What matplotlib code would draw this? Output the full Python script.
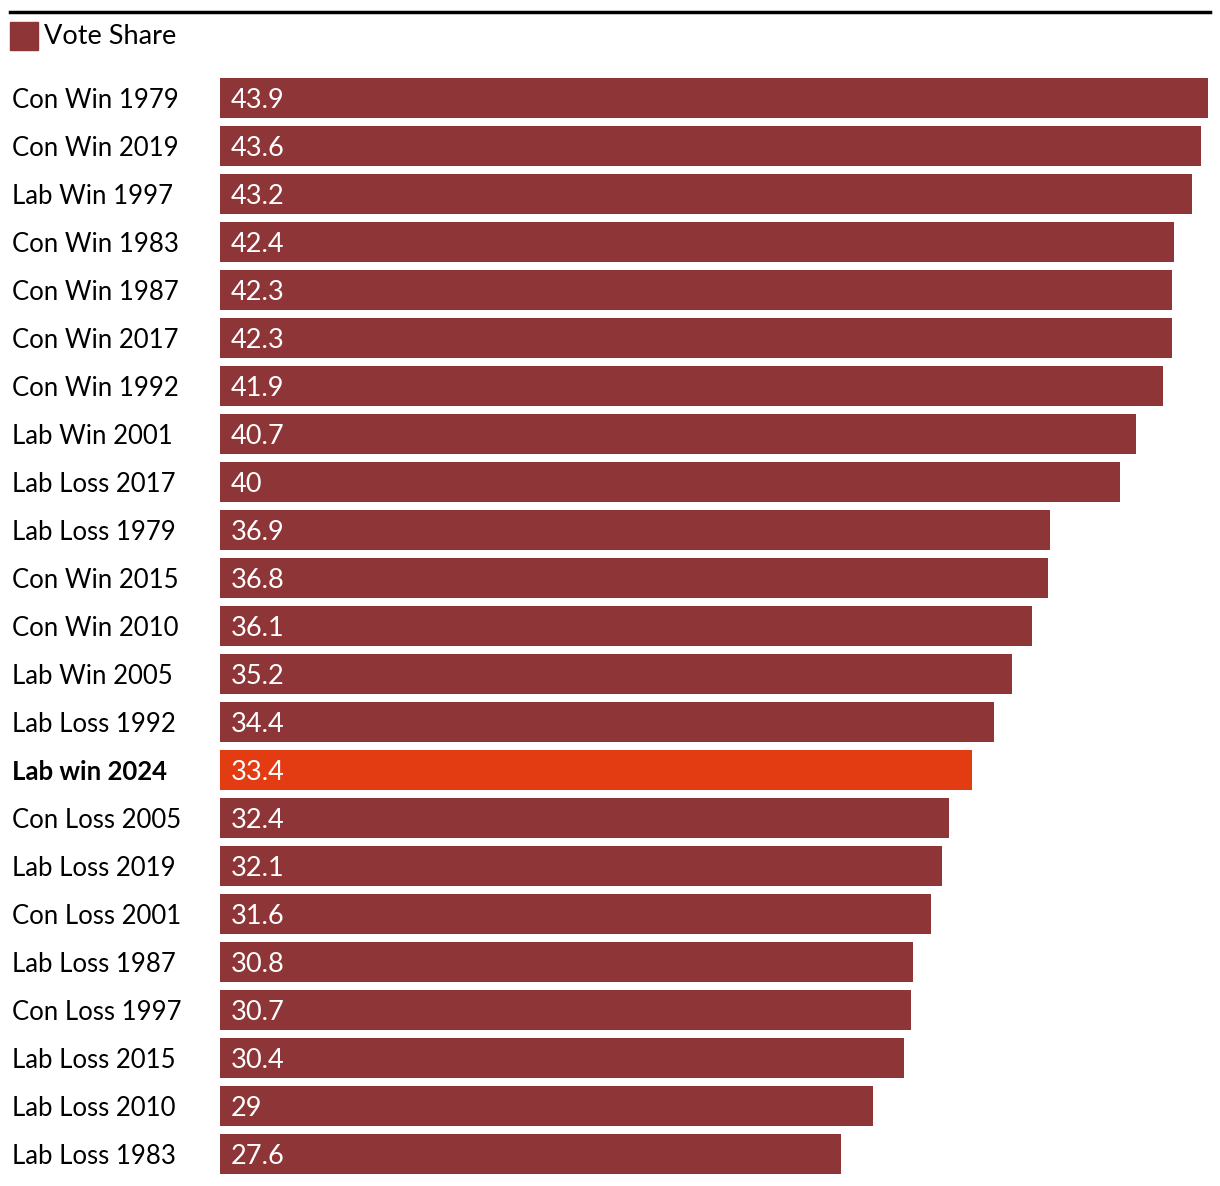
import matplotlib.pyplot as plt
from matplotlib.patches import Rectangle
from matplotlib.lines import Line2D

plt.rcParams['font.family'] = ['Lato', 'DejaVu Sans']

# ----------------------------
# data
# ----------------------------
labels = [
    "Con Win 1979", "Con Win 2019", "Lab Win 1997", "Con Win 1983", "Con Win 1987",
    "Con Win 2017", "Con Win 1992", "Lab Win 2001", "Lab Loss 2017", "Lab Loss 1979",
    "Con Win 2015", "Con Win 2010", "Lab Win 2005", "Lab Loss 1992", "Lab win 2024",
    "Con Loss 2005", "Lab Loss 2019", "Con Loss 2001", "Lab Loss 1987", "Con Loss 1997",
    "Lab Loss 2015", "Lab Loss 2010", "Lab Loss 1983",
]
values = [43.9, 43.6, 43.2, 42.4, 42.3, 42.3, 41.9, 40.7, 40, 36.9,
          36.8, 36.1, 35.2, 34.4, 33.4, 32.4, 32.1, 31.6, 30.8, 30.7,
          30.4, 29, 27.6]
highlight = "Lab win 2024"

BASE = "#8E3537"
HIGH = "#E33B12"

W, H = 1220, 1186
fig = plt.figure(figsize=(W / 100, H / 100), dpi=100)

# axes in pixel coords: x 220..1208, y 78..1174
ax = fig.add_axes([220 / W, 1 - 1174 / H, (1208 - 220) / W, (1174 - 78) / H])
n = len(values)
ypos = list(range(n))
colors = [HIGH if l == highlight else BASE for l in labels]
ax.barh(ypos, values, height=40 / 48, color=colors, align="center")
ax.set_xlim(0, max(values))
ax.set_ylim(n - 1 + 20 / 48, -20 / 48)
ax.axis("off")

for y, v, l in zip(ypos, values, labels):
    ax.annotate(f"{v:g}", (0, y), xytext=(8, -1.5), textcoords="offset points",
                ha="left", va="center", color="white", fontsize=19.5)
    ax.annotate(l, (0, y), xytext=(-208 * 0.72, -1.5), textcoords="offset points",
                ha="left", va="center", color="black", fontsize=18.5,
                fontweight="bold" if l == highlight else "normal")

# top rule
fig.add_artist(Line2D([10 / W, 1210 / W], [1 - 12 / H, 1 - 12 / H],
                      color="black", linewidth=2.5))
# legend
fig.add_artist(Rectangle((10 / W, 1 - 50 / H), 28 / W, 28 / H,
                         color=BASE, transform=fig.transFigure))
fig.text(44 / W, 1 - 37 / H, "Vote Share", ha="left", va="center",
         fontsize=19.5, color="black")

fig.savefig("out.png", dpi=100)
